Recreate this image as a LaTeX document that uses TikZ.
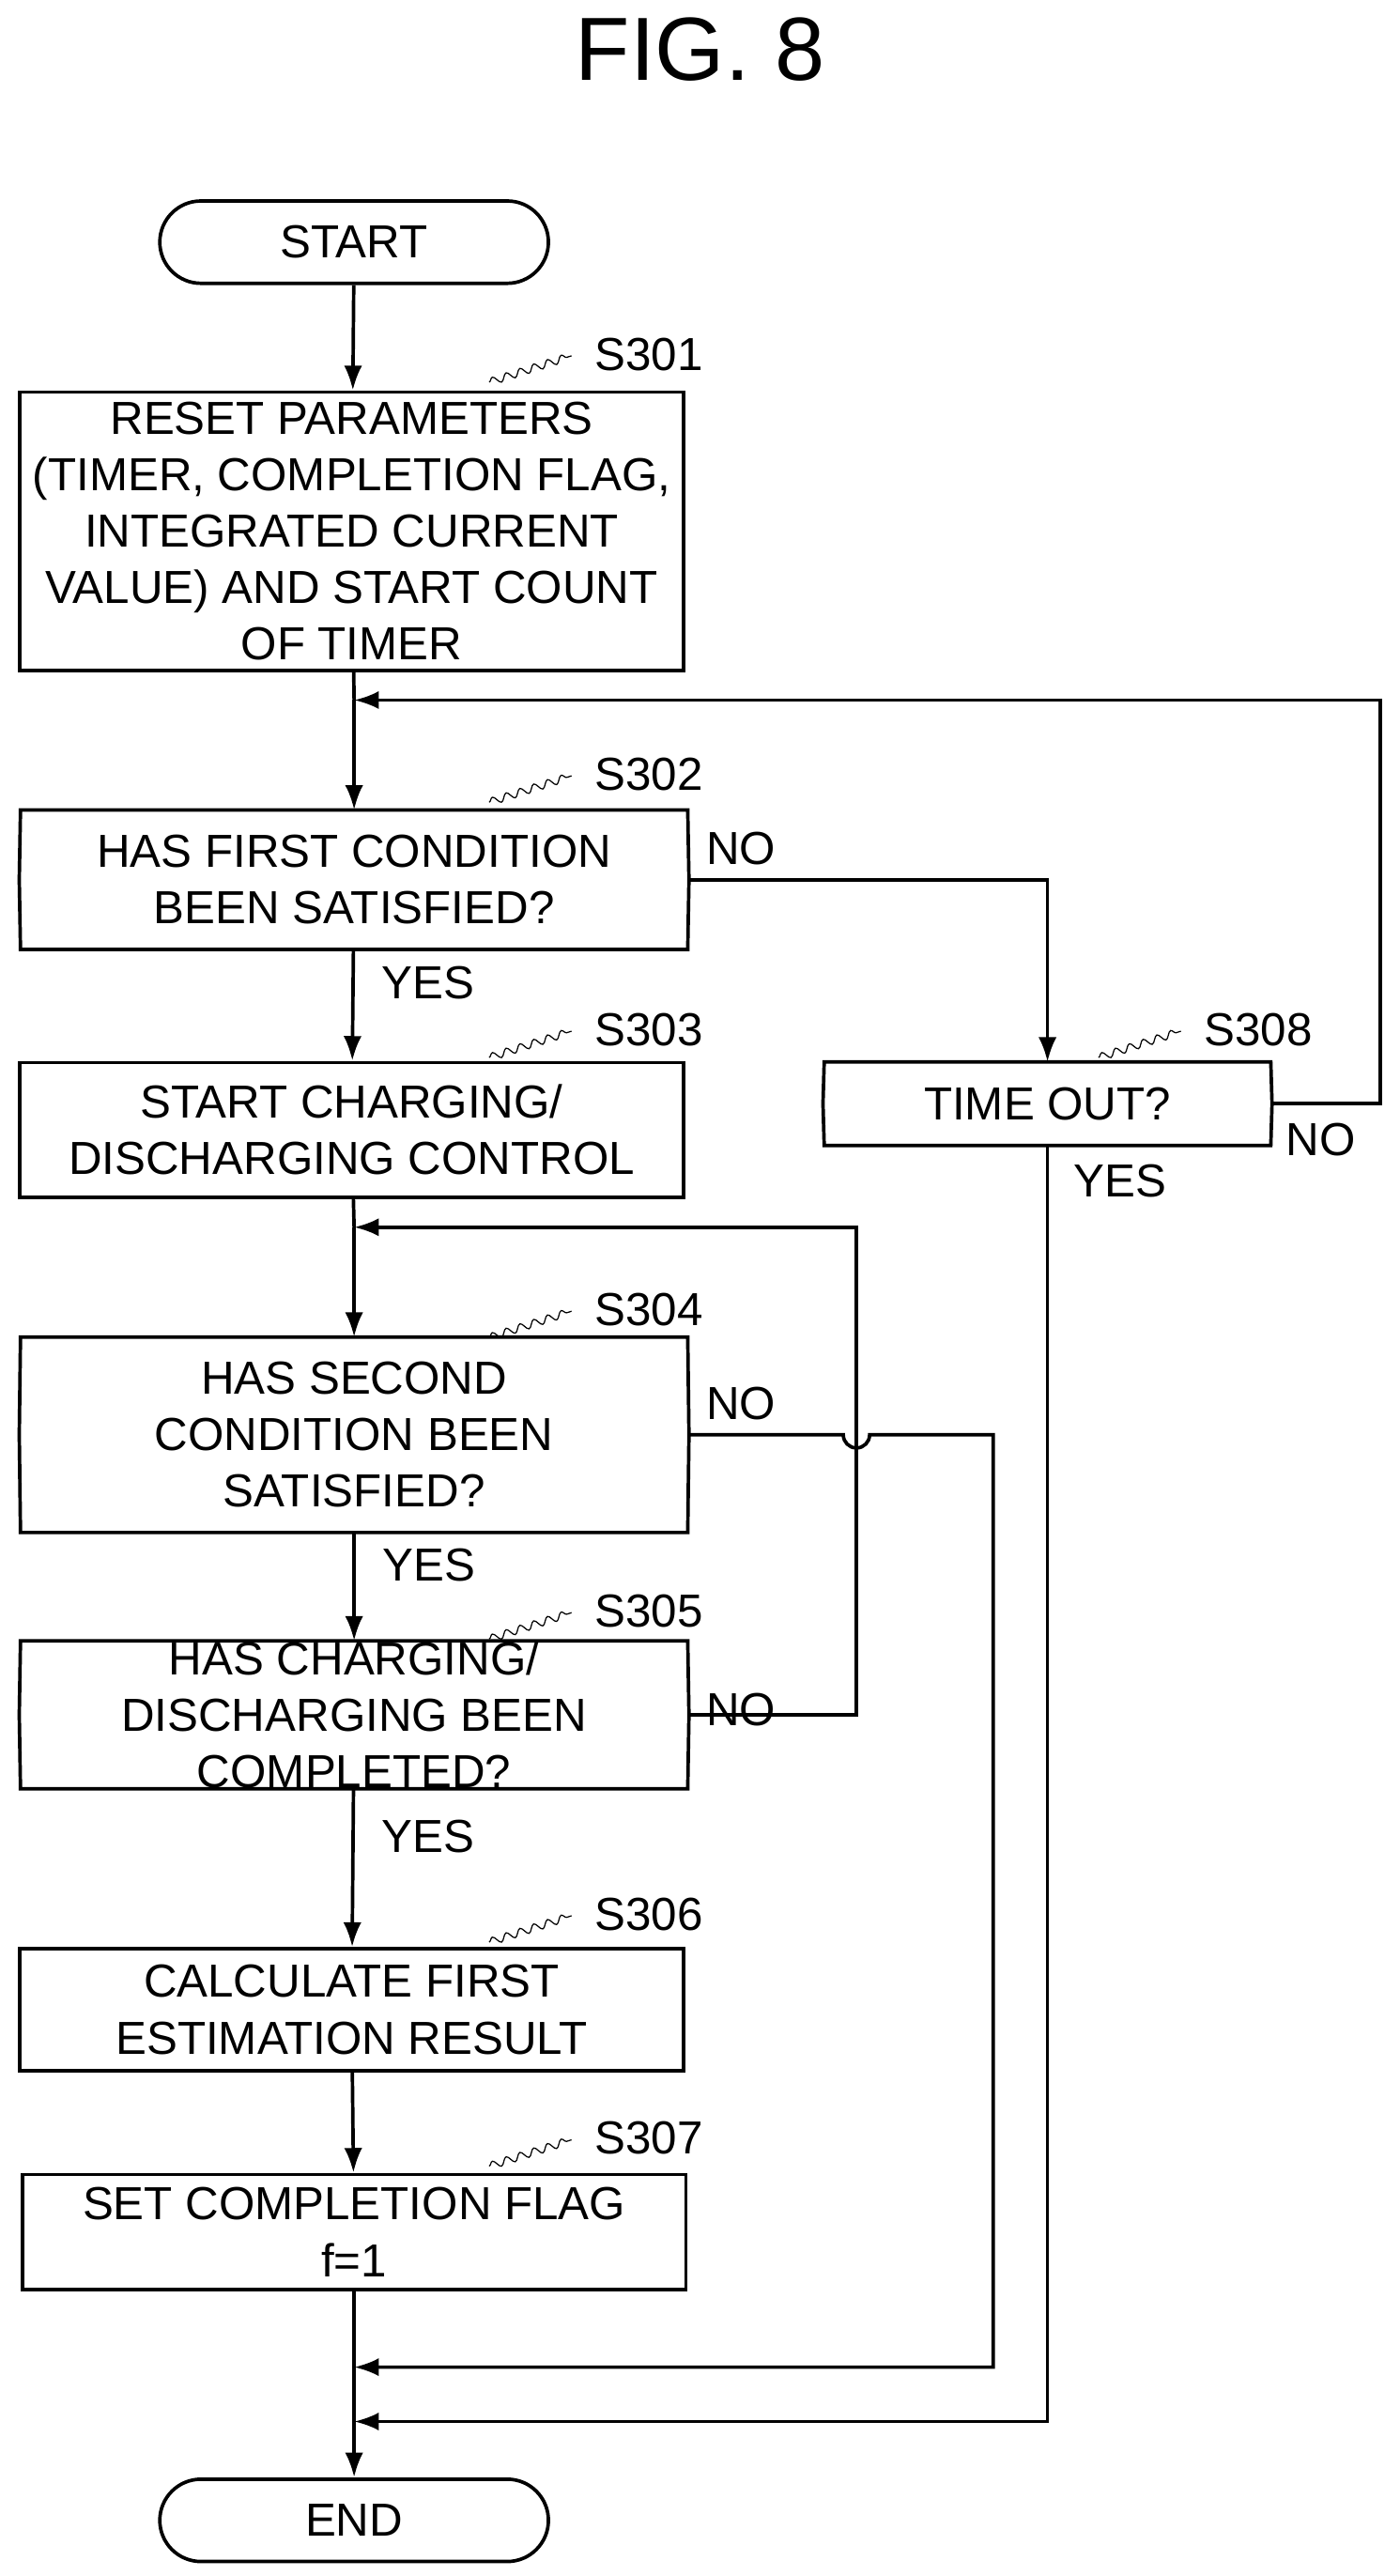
\documentclass[tikz,border=0pt]{standalone}
\usepackage{fontspec}
\setmainfont{Liberation Sans}
\usetikzlibrary{arrows.meta,calc,decorations.pathmorphing}

\newcommand{\hexdraw}[1]{%
  \draw[line width=1.2pt] ($(#1.north west)+(0.75,0)$) -- ($(#1.north east)+(-0.75,0)$) -- (#1.east)
    -- ($(#1.south east)+(-0.75,0)$) -- ($(#1.south west)+(0.75,0)$) -- (#1.west) -- cycle;}
\newcommand{\steplbl}[3]{% at x,y : label
  \draw[decorate,decoration={snake,amplitude=1.3pt,segment length=5pt}] (#1-88,#2+17) -- (#1-38,#2+1);
  \node[anchor=west,font=\fontsize{16}{19}\selectfont] at (#1-30,#2) {#3};}

\begin{document}
\begin{tikzpicture}[x=0.02cm,y=-0.02cm,
  box/.style={draw,line width=1.2pt,minimum width=8.06cm,align=center,inner sep=0pt,font=\fontsize{16}{19.5}\selectfont},
  decision/.style={minimum width=8.12cm,align=center,inner sep=0pt,font=\fontsize{16}{19.5}\selectfont},
  term/.style={draw,line width=1.2pt,rounded corners=0.5cm,minimum width=4.72cm,minimum height=1cm,font=\fontsize{16}{19.5}\selectfont},
  lbl/.style={font=\fontsize{16}{19.5}\selectfont},
  flow/.style={line width=1.2pt,-{Latex[length=3mm,width=2.2mm]}},
  line/.style={line width=1.2pt}]
  \useasboundingbox (0,0) rectangle (850,1563.8);

  \node[font=\fontsize{31}{36}\selectfont] (title) at (425,30) {FIG. 8};

  \node[term] (start) at (215,147) {START};
  \node[box,minimum height=3.38cm] (s301) at (213.5,322.5) {RESET PARAMETERS\\(TIMER, COMPLETION FLAG,\\INTEGRATED CURRENT\\VALUE) AND START COUNT\\OF TIMER};
  \node[decision,minimum height=1.68cm] (s302) at (215,534) {HAS FIRST CONDITION\\BEEN SATISFIED?};
  \hexdraw{s302}
  \node[box,minimum height=1.64cm] (s303) at (213.5,686) {START CHARGING/\\DISCHARGING CONTROL};
  \node[decision,minimum width=5.44cm,minimum height=1cm] (s308) at (636,670) {TIME OUT?};
  \hexdraw{s308}
  \node[decision,minimum height=2.36cm] (s304) at (215,871) {HAS SECOND\\CONDITION BEEN\\SATISFIED?};
  \hexdraw{s304}
  \node[decision,minimum height=1.74cm] (s305) at (215,1041) {HAS CHARGING/\\DISCHARGING BEEN\\COMPLETED?};
  \hexdraw{s305}
  \node[box,minimum height=1.48cm] (s306) at (213.5,1220) {CALCULATE FIRST\\ESTIMATION RESULT};
  \node[box,minimum height=1.4cm] (s307) at (215,1355) {SET COMPLETION FLAG\\f=1};
  \node[term] (end) at (215,1530) {END};

  % step labels
  \steplbl{385}{215}{S301}
  \steplbl{385}{470}{S302}
  \steplbl{385}{625}{S303}
  \steplbl{755}{625}{S308}
  \steplbl{385}{795}{S304}
  \steplbl{385}{978}{S305}
  \steplbl{385}{1162}{S306}
  \steplbl{385}{1298}{S307}

  % joins
  \coordinate (j1) at (215,425);
  \coordinate (j2) at (215,745);
  \coordinate (j3) at (215,1437);
  \coordinate (j4) at (215,1470);

  \draw[flow] (start) -- (s301);
  \draw[line] (s301) -- (j1);
  \draw[flow] (j1) -- (s302);
  \draw[flow] (s302) -- (s303) node[lbl,pos=0.3,right=6pt] {YES};
  \draw[line] (s303) -- (j2);
  \draw[flow] (j2) -- (s304);
  \draw[flow] (s304) -- (s305) node[lbl,pos=0.3,right=6pt] {YES};
  \draw[flow] (s305) -- (s306) node[lbl,pos=0.3,right=6pt] {YES};
  \draw[flow] (s306) -- (s307);
  \draw[line] (s307) -- (j3) -- (j4);
  \draw[flow] (j4) -- (end);

  % branches
  \draw[flow] (s302.east) -- (636,534) -- (s308.north);
  \node[lbl] at (450,515) {NO};
  \draw[flow] (s308.east) -- (838,670) -- (838,425) -- (j1);
  \node[lbl] at (802,692) {NO};
  \draw[flow] (s308.south) -- (636,1470) -- (j4);
  \node[lbl] at (680,717) {YES};
  \draw[flow] (s305.east) -- (520,1041) -- (520,745) -- (j2);
  \node[lbl] at (450,1038) {NO};
  \draw[flow] (s304.east) -- (512,871) arc[start angle=180,end angle=0,radius=8] -- (603,871) -- (603,1437) -- (j3);
  \node[lbl] at (450,852) {NO};
\end{tikzpicture}
\end{document}
